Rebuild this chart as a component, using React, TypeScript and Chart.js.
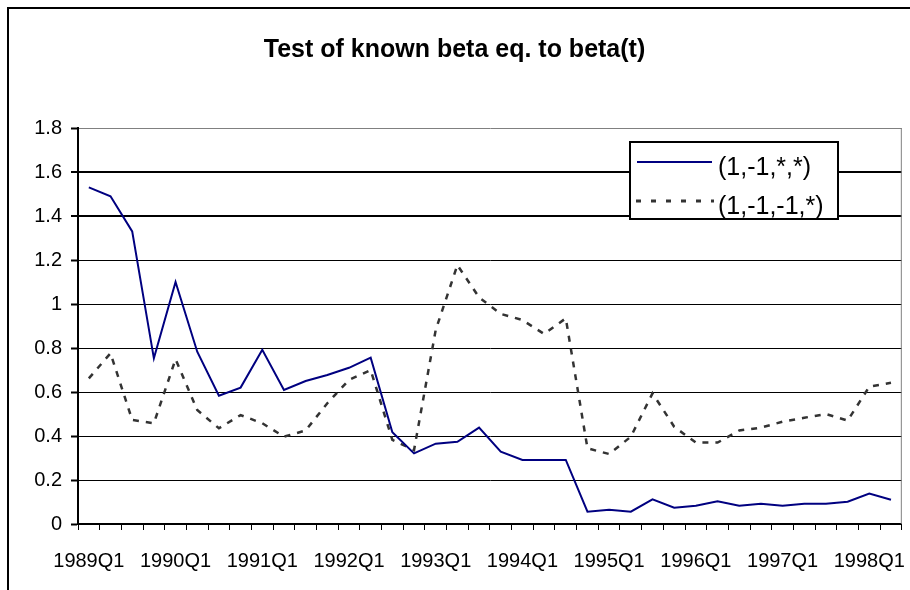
import React, { useEffect, useRef } from "react";
import { Chart, registerables } from "chart.js";

Chart.register(...registerables);

const chartTitle = "Test of known beta eq. to beta(t)";

const quarters = [
  "1989Q1", "1989Q2", "1989Q3", "1989Q4",
  "1990Q1", "1990Q2", "1990Q3", "1990Q4",
  "1991Q1", "1991Q2", "1991Q3", "1991Q4",
  "1992Q1", "1992Q2", "1992Q3", "1992Q4",
  "1993Q1", "1993Q2", "1993Q3", "1993Q4",
  "1994Q1", "1994Q2", "1994Q3", "1994Q4",
  "1995Q1", "1995Q2", "1995Q3", "1995Q4",
  "1996Q1", "1996Q2", "1996Q3", "1996Q4",
  "1997Q1", "1997Q2", "1997Q3", "1997Q4",
  "1998Q1", "1998Q2",
];

const seriesSolidName = "(1,-1,*,*)";
const seriesSolid = [
  1.53, 1.49, 1.33, 0.753, 1.1, 0.783, 0.583, 0.62, 0.792, 0.609,
  0.65, 0.677, 0.71, 0.756, 0.417, 0.321, 0.365, 0.374, 0.438, 0.329,
  0.291, 0.291, 0.291, 0.056, 0.065, 0.056, 0.112, 0.074, 0.083, 0.103,
  0.083, 0.092, 0.083, 0.092, 0.092, 0.101, 0.138, 0.11,
];

const seriesDashedName = "(1,-1,-1,*)";
const seriesDashed = [
  0.662, 0.776, 0.473, 0.458, 0.749, 0.518, 0.435, 0.495, 0.458, 0.397,
  0.425, 0.549, 0.655, 0.7, 0.382, 0.336, 0.882, 1.177, 1.03, 0.955,
  0.927, 0.864, 0.935, 0.344, 0.318, 0.397, 0.594, 0.442, 0.37, 0.37,
  0.425, 0.438, 0.465, 0.483, 0.5, 0.47, 0.624, 0.642,
];

const yMin = 0;
const yMax = 1.8;
const yStep = 0.2;

const FONT = "'Liberation Sans', Arial, Helvetica, sans-serif";
const SOLID_COLOR = "#000080";
const DASH_COLOR = "#333333";
const DASH_PATTERN = [6, 7];

const framePlugin = {
  id: "frame",
  beforeDraw(chart: any) {
    const { ctx, width, height } = chart;
    ctx.save();
    ctx.fillStyle = "#ffffff";
    ctx.fillRect(0, 0, width, height);
    ctx.fillStyle = "#000000";
    ctx.fillRect(7, 7, 2, height - 7);
    ctx.fillRect(7, 7, width - 7, 2);
    ctx.restore();
  },
  beforeDatasetsDraw(chart: any) {
    const { ctx, chartArea } = chart;
    ctx.save();
    ctx.strokeStyle = "#808080";
    ctx.lineWidth = 1;
    ctx.beginPath();
    ctx.moveTo(chartArea.right - 0.5, chartArea.top);
    ctx.lineTo(chartArea.right - 0.5, chartArea.bottom);
    ctx.stroke();
    ctx.restore();
  },
};

const legendPlugin = {
  id: "boxLegend",
  afterDatasetsDraw(chart: any) {
    const { ctx } = chart;
    const bx = 630, by = 142, bw = 208, bh = 77;
    ctx.save();
    ctx.fillStyle = "#ffffff";
    ctx.fillRect(bx, by, bw, bh);
    ctx.strokeStyle = "#000000";
    ctx.lineWidth = 2;
    ctx.strokeRect(bx, by, bw, bh);

    const ds = chart.data.datasets;
    ctx.setLineDash([]);
    ctx.strokeStyle = ds[0].borderColor;
    ctx.lineWidth = 2;
    ctx.beginPath();
    ctx.moveTo(637, 162);
    ctx.lineTo(712, 162);
    ctx.stroke();

    ctx.setLineDash([5, 10]);
    ctx.strokeStyle = ds[1].borderColor;
    ctx.lineWidth = 3;
    ctx.beginPath();
    ctx.moveTo(636, 201);
    ctx.lineTo(714, 201);
    ctx.stroke();
    ctx.setLineDash([]);

    ctx.fillStyle = "#000000";
    ctx.font = `25px ${FONT}`;
    ctx.textBaseline = "middle";
    ctx.textAlign = "left";
    ctx.fillText(ds[0].label, 718, 168);
    ctx.fillText(ds[1].label, 718, 207);
    ctx.restore();
  },
};

export default function App() {
  const canvasRef = useRef<HTMLCanvasElement | null>(null);

  useEffect(() => {
    const canvas = canvasRef.current;
    if (!canvas) return;
    const chart = new Chart(canvas, {
      type: "line",
      data: {
        labels: quarters,
        datasets: [
          {
            label: seriesSolidName,
            data: seriesSolid,
            borderColor: SOLID_COLOR,
            backgroundColor: SOLID_COLOR,
            borderWidth: 2,
            pointRadius: 0,
            tension: 0,
            fill: false,
          },
          {
            label: seriesDashedName,
            data: seriesDashed,
            borderColor: DASH_COLOR,
            backgroundColor: DASH_COLOR,
            borderWidth: 2.5,
            borderDash: DASH_PATTERN,
            pointRadius: 0,
            tension: 0,
            fill: false,
          },
        ],
      },
      options: {
        responsive: false,
        animation: false,
        devicePixelRatio: 1,
        layout: { padding: { top: 0, left: 0, right: 1, bottom: 0 } },
        plugins: {
          legend: { display: false },
          tooltip: { enabled: false },
          title: {
            display: true,
            text: chartTitle,
            color: "#000000",
            font: { family: FONT, size: 25, weight: "bold", lineHeight: 1.2 },
            padding: { top: 35, bottom: 63 },
          },
        },
        scales: {
          x: {
            type: "category",
            offset: true,
            afterFit(scale: any) {
              scale.height = 66;
            },
            grid: {
              display: true,
              drawOnChartArea: false,
              drawTicks: true,
              tickLength: 6,
              offset: true,
              color: "#000000",
              lineWidth: 1,
            },
            border: { display: true, color: "#000000", width: 2 },
            ticks: {
              autoSkip: false,
              maxRotation: 0,
              minRotation: 0,
              padding: 19,
              color: "#000000",
              font: { family: FONT, size: 20 },
              callback(this: any, _v: any, index: number) {
                const lab = quarters[index];
                return lab.endsWith("Q1") ? lab : "";
              },
            },
          },
          y: {
            min: yMin,
            max: yMax,
            afterFit(scale: any) {
              scale.width = 78;
            },
            grid: {
              color: (c: any) =>
                Math.abs(c.tick.value - yMax) < 1e-6 ? "#808080" : "#000000",
              lineWidth: (c: any) =>
                Math.abs(c.tick.value - 1.6) < 1e-6 ||
                Math.abs(c.tick.value - 1.4) < 1e-6
                  ? 2
                  : 1,
              tickColor: "#000000",
              tickWidth: 2,
              tickLength: 7,
              drawTicks: true,
            },
            border: { display: true, color: "#000000", width: 2 },
            ticks: {
              stepSize: yStep,
              padding: 9,
              color: "#000000",
              font: { family: FONT, size: 20 },
              callback: (v: any) => String(Number(Number(v).toFixed(1))),
            },
          },
        },
      },
      plugins: [framePlugin, legendPlugin],
    } as any);
    return () => chart.destroy();
  }, []);

  return (
    <div style={{ position: "absolute", left: 0, top: 0, width: 910, height: 590 }}>
      <canvas ref={canvasRef} width={910} height={590} style={{ display: "block" }} />
    </div>
  );
}
